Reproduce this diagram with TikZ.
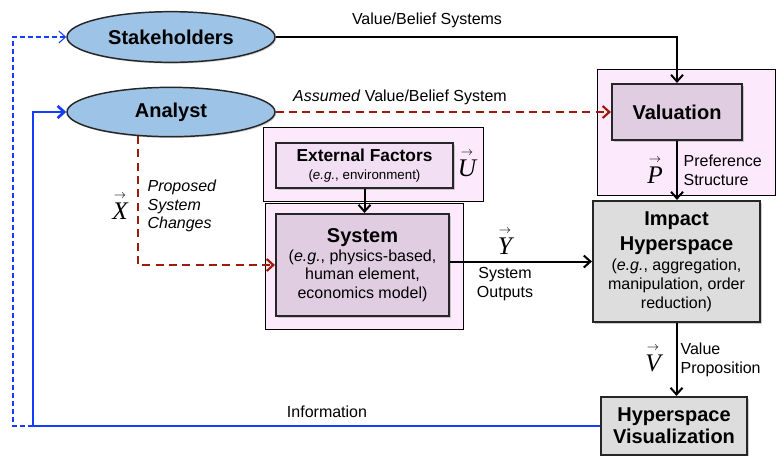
\documentclass[tikz,border=0pt]{standalone}
\usepackage{amsmath}
\usepackage{fontspec}
\setmainfont{Liberation Sans}
\newfontfamily\vserif{Liberation Serif}
\usepackage{tikz}
\usetikzlibrary{shapes,arrows.meta,shadows}
\definecolor{ellblue}{RGB}{157,195,230}
\definecolor{pinkbg}{RGB}{253,233,252}
\definecolor{extpink}{RGB}{243,223,243}
\definecolor{mauve}{RGB}{225,205,225}
\definecolor{boxgray}{RGB}{221,221,221}
\definecolor{dkred}{RGB}{160,25,10}
\definecolor{infoblue}{RGB}{20,60,255}
\newcommand{\bigf}{\fontsize{15}{19}\selectfont\bfseries}
\newcommand{\midf}{\fontsize{12}{14}\selectfont}
\newcommand{\smf}{\fontsize{10}{12}\selectfont}
\newcommand{\vecf}{\fontsize{19}{21}\selectfont}
\newcommand{\vq}[1]{$\overset{\scriptscriptstyle\rightarrow}{\text{\vserif\itshape #1}}$}
\tikzset{>={Straight Barb[length=5pt,width=9pt]}}
\tikzset{
  actor/.style={ellipse,draw=black!85,line width=1.1pt,fill=ellblue,minimum width=156pt,minimum height=38pt,font=\bigf,
    drop shadow={shadow xshift=1pt,shadow yshift=-1pt,opacity=.35}},
  outerbox/.style={rectangle,draw=black,line width=0.7pt,fill=pinkbg},
  innerbox/.style={rectangle,draw=black!85,line width=1.6pt,fill=mauve,align=center,font=\midf,
    drop shadow={shadow xshift=1.2pt,shadow yshift=-1.2pt,opacity=.4}},
  graybox/.style={innerbox,fill=boxgray},
  lbl/.style={font=\midf,inner sep=1pt},
  vecl/.style={font=\vecf,inner sep=0pt},
  flow/.style={draw=black,line width=1.5pt},
  assumed/.style={draw=dkred,line width=1.6pt,dash pattern=on 6pt off 4pt},
  info/.style={draw=infoblue,line width=2pt},
  feedback/.style={draw=infoblue,line width=0.8pt,dash pattern=on 3.5pt off 2.5pt}
}
\begin{document}
\begin{tikzpicture}[x=0.75pt,y=-0.75pt,line join=miter]
\useasboundingbox (0,0) rectangle (777,455);
% actors
\node[actor] (stake) at (171,37) {Stakeholders};
\node[actor,minimum height=37pt] (analyst) at (171,112) {Analyst};
% containers
\node[outerbox,minimum width=134pt,minimum height=94pt] (valbg) at (686.5,132.5) {};
\node[outerbox,minimum width=165pt,minimum height=55.5pt] (extbg) at (373,164) {};
\node[outerbox,minimum width=148.5pt,minimum height=94.5pt] (sysbg) at (364,266) {};
% blocks
\node[innerbox,minimum width=97.5pt,minimum height=42pt,font=\bigf] (val) at (677,112) {Valuation};
\node[innerbox,fill=extpink,line width=1.2pt,minimum width=132.75pt,minimum height=33.75pt,font=\smf] (ext) at (364.5,165.5)
  {\fontsize{13}{15}\selectfont\bfseries External Factors\\[1pt]\smf(\textit{e.g.}, environment)};
\node[innerbox,minimum width=129.75pt,minimum height=76.5pt] (sys) at (362.5,265)
  {\bigf System\\[0pt](\textit{e.g.}, physics-based,\\human element,\\economics model)};
\node[graybox,minimum width=125.25pt,minimum height=90.75pt] (impact) at (676.5,261.5)
  {\bigf Impact\\[4.5pt]\bigf Hyperspace\\[1.5pt](\textit{e.g.}, aggregation,\\manipulation, order\\reduction)};
\node[graybox,minimum width=109.5pt,minimum height=43.5pt] (viz) at (674,426)
  {\bigf Hyperspace\\[2.5pt]\bigf Visualization};
% corners of the feedback loop
\coordinate (infoleft) at (33,426);
\coordinate (fbleft) at (13,426);
% connectors
\draw[flow,->] (stake.east) -| (val.north);
\draw[assumed,->] (analyst.east) -- (val.west);
\draw[assumed,->] (analyst.-144) |- (sys.west);
\draw[flow,->] (ext.south) -- (ext.south |- sys.north);
\draw[flow,->] (impact.west -| sys.east) -- (impact.west);
\draw[flow,->] (val.south) -- (val.south |- impact.north);
\draw[flow,->] (impact.south) -- (impact.south |- viz.north);
\draw[info,->] (viz.west) -| (infoleft) |- (analyst.west);
\draw[feedback,->] (infoleft) -- (fbleft) |- (stake.west);
% labels
\node[lbl] (vbs) at (427,20) {Value/Belief Systems};
\node[lbl] (avbs) at (400,97) {\textit{Assumed} Value/Belief System};
\node[vecl] (pvec) at (655,170) {\vq{P}};
\node[lbl,anchor=west,align=left] (pref) at (682,170) {Preference\\Structure};
\node[vecl] (uvec) at (467,163) {\vq{U}};
\node[vecl] (xvec) at (120,206) {\vq{X}};
\node[lbl,anchor=west,align=left,font=\midf\itshape] (prop) at (146,206) {Proposed\\System\\Changes};
\node[vecl] (yvec) at (505,241) {\vq{Y}};
\node[lbl,align=center] (sout) at (505,284) {System\\Outputs};
\node[vecl] (vvec) at (653,358) {\vq{V}};
\node[lbl,anchor=west,align=left] (vprop) at (679,360) {Value\\Proposition};
\node[lbl] (infol) at (327,412) {Information};
\end{tikzpicture}
\end{document}
